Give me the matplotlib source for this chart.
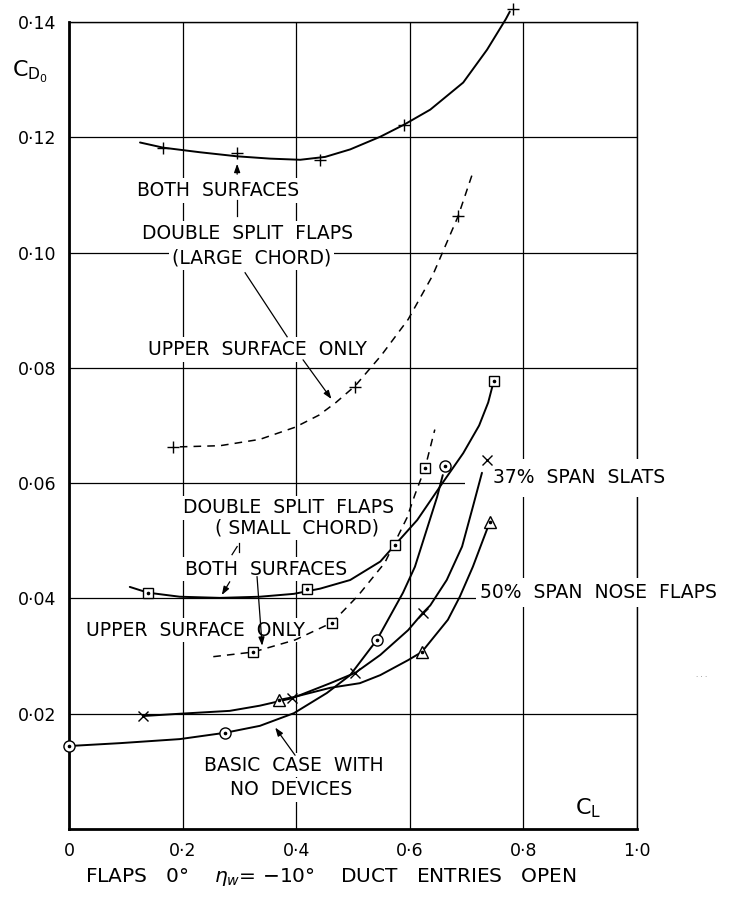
import matplotlib
matplotlib.use("Agg")
import matplotlib.pyplot as plt
from matplotlib.patches import Rectangle

plt.rcParams['font.family'] = ['DejaVu Sans']
plt.rcParams['mathtext.fontset'] = 'dejavusans'

# ---------------- data (CL, CDo) ----------------
# double split flaps, large chord, both surfaces
lc_both_cl = [0.125, 0.166, 0.231, 0.296, 0.354, 0.407, 0.451, 0.495, 0.548, 0.590, 0.636, 0.694, 0.736, 0.769, 0.776]
lc_both_cd = [0.1191, 0.1182, 0.1174, 0.1167, 0.1163, 0.1161, 0.1166, 0.1179, 0.1201, 0.1222, 0.1248, 0.1295, 0.1352, 0.1405, 0.1418]
lc_both_pts_cl = [0.166, 0.296, 0.442, 0.590, 0.782]
lc_both_pts_cd = [0.1182, 0.1172, 0.1160, 0.1222, 0.1422]

# large chord, upper surface only
lc_up_cl = [0.195, 0.266, 0.336, 0.398, 0.440, 0.470, 0.504, 0.550, 0.597, 0.640, 0.685, 0.711]
lc_up_cd = [0.0663, 0.0665, 0.0676, 0.0697, 0.0718, 0.0740, 0.0769, 0.0822, 0.0884, 0.0960, 0.1063, 0.1139]
lc_up_pts_cl = [0.183, 0.503, 0.685]
lc_up_pts_cd = [0.0663, 0.0766, 0.1063]

# small chord, both surfaces
sc_both_cl = [0.107, 0.139, 0.195, 0.266, 0.336, 0.396, 0.442, 0.495, 0.548, 0.574, 0.613, 0.658, 0.694, 0.722, 0.738, 0.748]
sc_both_cd = [0.0420, 0.0410, 0.0403, 0.0401, 0.0403, 0.0408, 0.0417, 0.0432, 0.0464, 0.0493, 0.0536, 0.0601, 0.0652, 0.0700, 0.0740, 0.0778]
sc_both_pts_cl = [0.139, 0.419, 0.574, 0.748]
sc_both_pts_cd = [0.0410, 0.0417, 0.0493, 0.0778]

# small chord, upper surface only
sc_up_cl = [0.254, 0.324, 0.398, 0.463, 0.509, 0.556, 0.595, 0.609, 0.627, 0.644]
sc_up_cd = [0.0299, 0.0307, 0.0328, 0.0358, 0.0405, 0.0462, 0.0540, 0.0580, 0.0627, 0.0693]
sc_up_pts_cl = [0.324, 0.463, 0.627]
sc_up_pts_cd = [0.0307, 0.0358, 0.0627]

# basic case, no devices
basic_cl = [0.0, 0.090, 0.195, 0.275, 0.336, 0.396, 0.454, 0.495, 0.542, 0.588, 0.609, 0.648, 0.658]
basic_cd = [0.0144, 0.0149, 0.0156, 0.0167, 0.0179, 0.0201, 0.0236, 0.0267, 0.0328, 0.0410, 0.0455, 0.0576, 0.0614]
basic_pts_cl = [0.0, 0.275, 0.542, 0.662]
basic_pts_cd = [0.0144, 0.0167, 0.0328, 0.0629]

# 37% span slats
slats_cl = [0.130, 0.195, 0.283, 0.336, 0.393, 0.460, 0.504, 0.548, 0.597, 0.623, 0.636, 0.665, 0.692, 0.711, 0.727]
slats_cd = [0.0196, 0.0200, 0.0205, 0.0214, 0.0227, 0.0253, 0.0271, 0.0302, 0.0345, 0.0375, 0.0388, 0.0432, 0.0490, 0.0559, 0.0618]
slats_pts_cl = [0.130, 0.393, 0.504, 0.623, 0.736]
slats_pts_cd = [0.0196, 0.0227, 0.0271, 0.0375, 0.0640]

# 50% span nose flaps
nose_cl = [0.370, 0.396, 0.460, 0.512, 0.548, 0.597, 0.621, 0.667, 0.688, 0.711, 0.729, 0.741]
nose_cd = [0.0224, 0.0229, 0.0245, 0.0253, 0.0267, 0.0293, 0.0307, 0.0363, 0.0403, 0.0455, 0.0502, 0.0533]
nose_pts_cl = [0.370, 0.621, 0.741]
nose_pts_cd = [0.0224, 0.0307, 0.0533]

xticks = [0, 0.2, 0.4, 0.6, 0.8, 1.0]
xticklabels = ['0', '0·2', '0·4', '0·6', '0·8', '1·0']
yticks = [0.02, 0.04, 0.06, 0.08, 0.10, 0.12, 0.14]
yticklabels = ['0·02', '0·04', '0·06', '0·08', '0·10', '0·12', '0·14']

# ---------------- figure ----------------
fig = plt.figure(figsize=(7.35, 9.02), dpi=100)
ax = fig.add_axes([0.0939, 0.0809, 0.7728, 0.8947])
ax.set_xlim(0, 1.0)
ax.set_ylim(0, 0.14)

ax.set_xticks(xticks)
ax.set_xticklabels(xticklabels)
ax.set_yticks(yticks)
ax.set_yticklabels(yticklabels)
ax.tick_params(length=0, labelsize=12.5, pad=9)
ax.grid(True, color='black', lw=0.9, zorder=0.5)
ax.set_axisbelow(True)
for s in ['left', 'bottom']:
    ax.spines[s].set_linewidth(2.0)
for s in ['top', 'right']:
    ax.spines[s].set_linewidth(1.0)

# cut the 0.06 gridline before the slats label
ax.add_patch(Rectangle((0.697, 0.0585), 0.06, 0.003, facecolor='white', edgecolor='none', zorder=1))

solid = dict(color='black', lw=1.4, zorder=3, solid_capstyle='round', solid_joinstyle='round')
dashed = dict(color='black', lw=1.1, zorder=3, dashes=(5, 4))
mk = dict(ls='none', color='black', mfc='white', mew=1.0, zorder=4, clip_on=False)
dot = dict(ls='none', marker='o', ms=1.6, color='black', zorder=5, clip_on=False)

ax.plot(lc_both_cl, lc_both_cd, clip_on=False, **solid)
ax.plot(lc_both_pts_cl, lc_both_pts_cd, marker='+', ms=9, **mk)

ax.plot(lc_up_cl, lc_up_cd, **dashed)
ax.plot(lc_up_pts_cl, lc_up_pts_cd, marker='+', ms=9, **mk)

ax.plot(sc_both_cl, sc_both_cd, **solid)
ax.plot(sc_both_pts_cl, sc_both_pts_cd, marker='s', ms=6.5, **mk)
ax.plot(sc_both_pts_cl, sc_both_pts_cd, **dot)

ax.plot(sc_up_cl, sc_up_cd, **dashed)
ax.plot(sc_up_pts_cl, sc_up_pts_cd, marker='s', ms=6.5, **mk)
ax.plot(sc_up_pts_cl, sc_up_pts_cd, **dot)

ax.plot(basic_cl, basic_cd, **solid)
ax.plot(basic_pts_cl, basic_pts_cd, marker='o', ms=8, **mk)
ax.plot(basic_pts_cl, basic_pts_cd, **dot)

ax.plot(slats_cl, slats_cd, **solid)
ax.plot(slats_pts_cl, slats_pts_cd, marker='x', ms=7, **mk)

ax.plot(nose_cl, nose_cd, **solid)
ax.plot(nose_pts_cl, nose_pts_cd, marker='^', ms=8, **mk)
ax.plot(nose_pts_cl, nose_pts_cd, **dot)

# ---------------- labels ----------------
fs = 13.5
box = dict(facecolor='white', edgecolor='none', boxstyle='square,pad=0.15')
lab = dict(fontsize=fs, ha='center', va='center', zorder=2, bbox=box)

ax.text(0.262, 0.1108, 'BOTH  SURFACES', **lab)
ax.text(0.315, 0.1033, 'DOUBLE  SPLIT  FLAPS', **lab)
ax.text(0.322, 0.0991, '(LARGE  CHORD)', **lab)
ax.text(0.331, 0.0832, 'UPPER  SURFACE  ONLY', **lab)

ax.text(0.387, 0.0557, 'DOUBLE  SPLIT  FLAPS', **lab)
ax.text(0.401, 0.0523, '( SMALL  CHORD)', **lab)
ax.text(0.347, 0.0451, 'BOTH  SURFACES', **lab)
ax.text(0.222, 0.0345, 'UPPER  SURFACE  ONLY', **lab)

ax.text(0.396, 0.0111, 'BASIC  CASE  WITH', **lab)
ax.text(0.391, 0.0068, 'NO  DEVICES', **lab)

ax.text(0.746, 0.0609, '37%  SPAN  SLATS', fontsize=fs, ha='left', va='center',
        zorder=3, bbox=dict(facecolor='white', edgecolor='none', boxstyle='square,pad=0.5'),
        clip_on=False)
ax.text(0.724, 0.0410, '50%  SPAN  NOSE  FLAPS', fontsize=fs, ha='left', va='center',
        zorder=3, bbox=dict(facecolor='white', edgecolor='none', boxstyle='square,pad=0.25'),
        clip_on=False)

ax.text(0.914, 0.0036, r'$\mathrm{C_L}$', fontsize=16, ha='center', va='center')
fig.text(0.041, 0.920, r'$\mathrm{C_{D_0}}$', fontsize=16, ha='center', va='center')

# leader lines and arrows
arr = dict(arrowstyle='-|>,head_length=0.5,head_width=0.18', color='black', lw=0.9,
           shrinkA=0, shrinkB=0)
ax.annotate('', xy=(0.296, 0.1154), xytext=(0.296, 0.1136), arrowprops=arr, zorder=4)
ax.plot([0.296, 0.296], [0.1092, 0.1063], color='black', lw=0.9, zorder=3)
ax.plot([0.310, 0.384], [0.0965, 0.0854], color='black', lw=0.9, zorder=3)
ax.annotate('', xy=(0.462, 0.0746), xytext=(0.412, 0.0814), arrowprops=arr, zorder=4)

ax.plot([0.287, 0.296], [0.0476, 0.0490], color='black', lw=0.9, zorder=3)
ax.plot([0.299, 0.299], [0.0481, 0.0497], color='black', lw=0.9, zorder=3)
ax.annotate('', xy=(0.269, 0.0406), xytext=(0.283, 0.0429), arrowprops=arr, zorder=4)
ax.annotate('', xy=(0.340, 0.0318), xytext=(0.331, 0.0438), arrowprops=arr, zorder=4)
ax.annotate('', xy=(0.363, 0.0176), xytext=(0.398, 0.0128), arrowprops=arr, zorder=4)

fig.text(0.450, 0.0277, r'FLAPS   0°    $\eta_{w}$= $-$10°    DUCT   ENTRIES   OPEN',
         fontsize=14.5, ha='center', va='center')
fig.text(0.955, 0.249, '· · ·', fontsize=5, color='grey', ha='center', va='center')

fig.savefig('out.png', dpi=100)
